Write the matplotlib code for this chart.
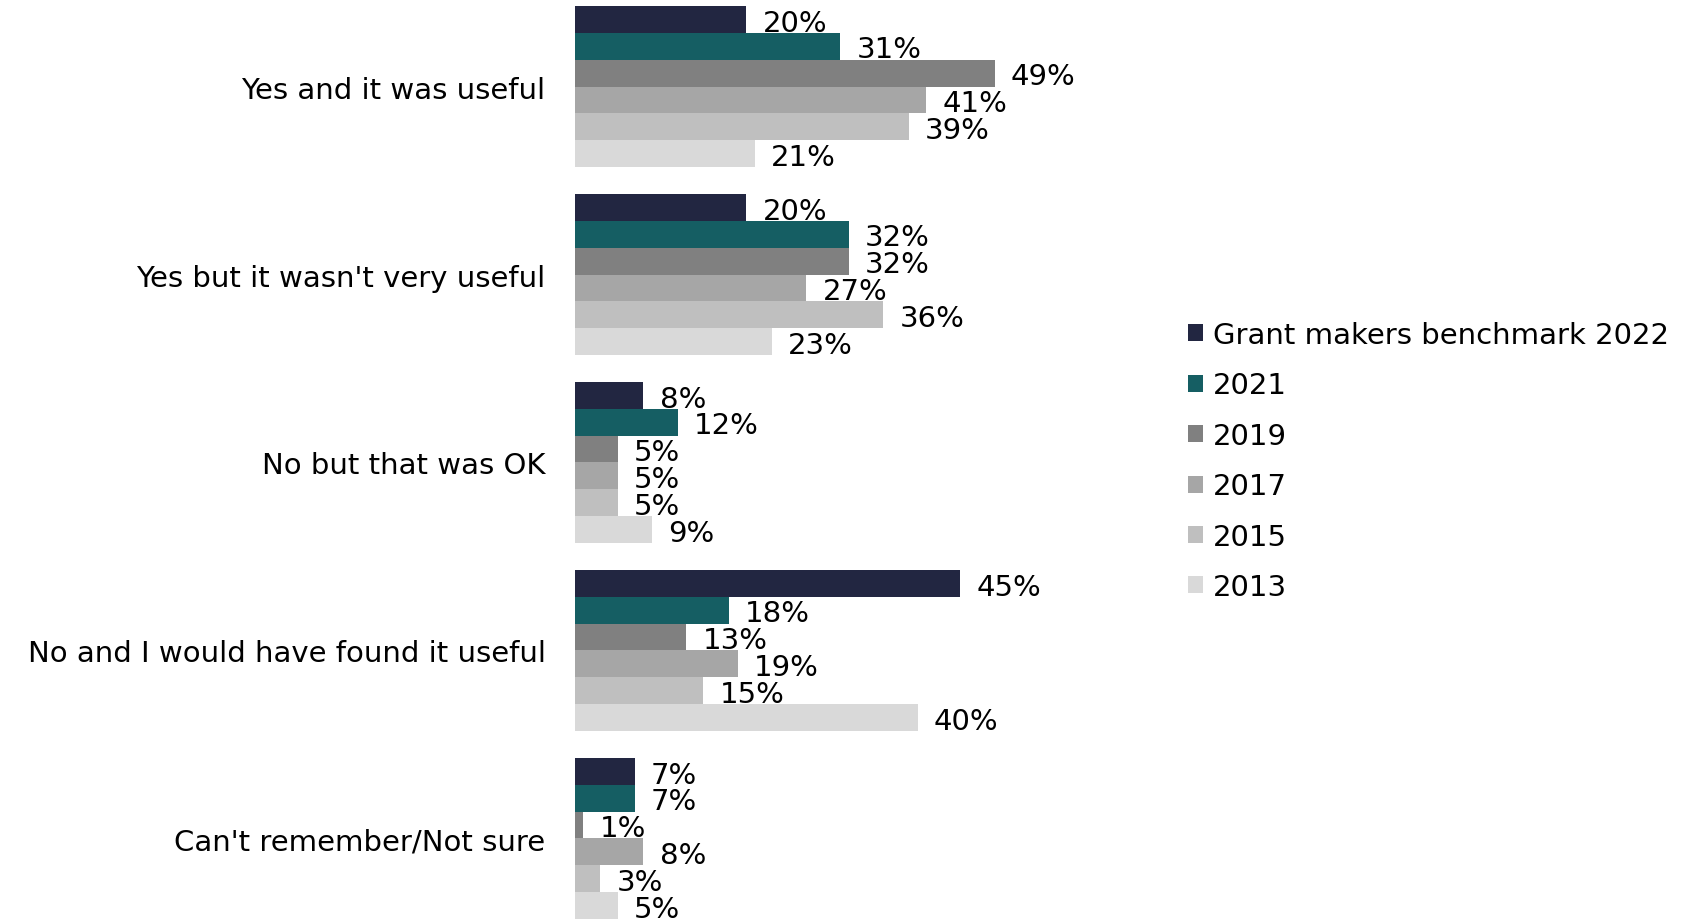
import matplotlib
matplotlib.use("Agg")
import matplotlib.pyplot as plt
from matplotlib.patches import Patch

# survey answers, top to bottom
categories = ["Yes and it was useful",
              "Yes but it wasn't very useful",
              "No but that was OK",
              "No and I would have found it useful",
              "Can't remember/Not sure"]

series = ["Grant makers benchmark 2022", "2021", "2019", "2017", "2015", "2013"]

# percentages per series, in category order
v2022 = [20, 20, 8, 45, 7]
v2021 = [31, 32, 12, 18, 7]
v2019 = [49, 32, 5, 13, 1]
v2017 = [41, 27, 5, 19, 8]
v2015 = [39, 36, 5, 15, 3]
v2013 = [21, 23, 9, 40, 5]

colors = ["#222641", "#155e63", "#808080", "#a6a6a6", "#bfbfbf", "#d9d9d9"]

values = [v2022, v2021, v2019, v2017, v2015, v2013]

plt.rcParams['font.family'] = ['DejaVu Sans']
FS = 21

fig = plt.figure(figsize=(16.99, 9.2), dpi=100)
ax = fig.add_axes([0.3383, 0.0, 0.3026, 0.9924])

step = len(series) + 1
for j, (name, vals, col) in enumerate(zip(series, values, colors)):
    ys = [i * step + j for i in range(len(categories))]
    ax.barh(ys, vals, height=1.0, color=col, label=name)
    for y, v in zip(ys, vals):
        ax.text(v + 1.9, y + 0.12, f"{v}%", va='center', ha='left', fontsize=FS, color='black')

centers = [i * step + (len(series) - 1) / 2 for i in range(len(categories))]
ax.set_yticks(centers)
ax.set_yticklabels(categories, fontsize=FS)
ax.tick_params(axis='y', length=0, pad=21)
ax.set_xticks([])
ax.set_xlim(0, 60)
ax.set_ylim(len(categories) * step - 1.5, -0.5)
for s in ax.spines.values():
    s.set_visible(False)

handles = [Patch(facecolor=c, label=n) for n, c in zip(series, colors)]
fig.legend(handles=handles, loc='upper left', bbox_to_anchor=(0.6993, 0.65),
           frameon=False, fontsize=FS, handlelength=0.52, handleheight=0.52,
           handletextpad=0.32, labelspacing=0.77, borderaxespad=0, borderpad=0)

fig.savefig("out.png", dpi=100)
